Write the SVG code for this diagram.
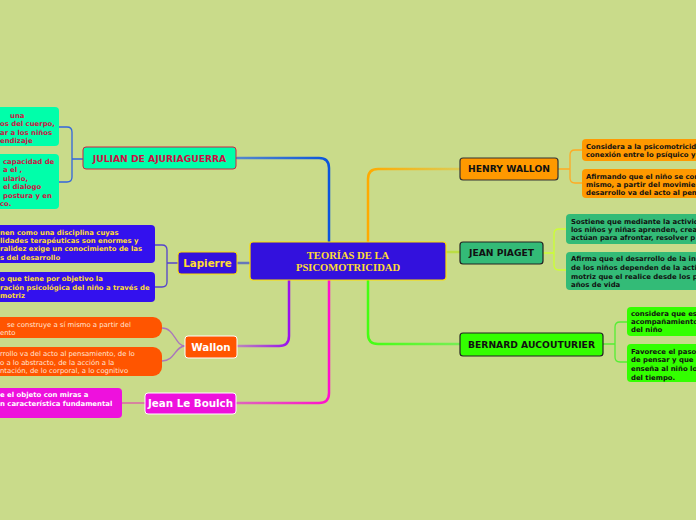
<svg xmlns="http://www.w3.org/2000/svg" width="696" height="520" viewBox="0 0 696 520">
<style>
.n{font-family:"DejaVu Sans",Verdana,sans-serif;font-weight:bold;font-size:6.9px}
.r{font-family:"DejaVu Sans",Verdana,sans-serif;font-weight:normal;font-size:6.9px}
.t{font-family:"DejaVu Sans",Verdana,sans-serif;font-weight:bold;font-size:9.2px;text-anchor:middle}
.s{font-family:"DejaVu Sans",Verdana,sans-serif;font-weight:bold;font-size:10.3px;text-anchor:middle}
.c{fill:none;stroke-width:2.5;stroke-linecap:round}
.b{fill:none;stroke-width:1.3}
</style>
<defs>
<linearGradient id="gJ" gradientUnits="userSpaceOnUse" x1="237" y1="0" x2="329" y2="0"><stop offset="0" stop-color="#5588cc"/><stop offset="1" stop-color="#0a55dd"/></linearGradient>
<linearGradient id="gW" gradientUnits="userSpaceOnUse" x1="237" y1="0" x2="289" y2="0"><stop offset="0" stop-color="#bb88bb"/><stop offset="1" stop-color="#9911ee"/></linearGradient>
<linearGradient id="gB" gradientUnits="userSpaceOnUse" x1="237" y1="0" x2="329" y2="0"><stop offset="0" stop-color="#dd66bb"/><stop offset="1" stop-color="#ff11cc"/></linearGradient>
<linearGradient id="gH" gradientUnits="userSpaceOnUse" x1="368" y1="0" x2="460" y2="0"><stop offset="0" stop-color="#ffaa00"/><stop offset="1" stop-color="#ddcc55"/></linearGradient>
<linearGradient id="gA" gradientUnits="userSpaceOnUse" x1="368" y1="0" x2="460" y2="0"><stop offset="0" stop-color="#44ff11"/><stop offset="1" stop-color="#77ee55"/></linearGradient>
</defs>
<rect width="696" height="520" fill="#c9db8a"/>
<g id="connectors">
<path class="c" stroke="url(#gJ)" d="M329 242V168Q329 158 319 158H237"/>
<path class="c" stroke="#6677bb" stroke-width="1.5" d="M250 263H237"/>
<path class="c" stroke="url(#gW)" d="M289 280V336Q289 346 279 346H237"/>
<path class="c" stroke="url(#gB)" d="M329 280V393Q329 403 319 403H237"/>
<path class="c" stroke="url(#gH)" d="M368 242V179Q368 169 378 169H460"/>
<path class="c" stroke="#bbdd44" stroke-width="1.5" d="M446 252H460"/>
<path class="c" stroke="url(#gA)" d="M368 280V334Q368 344 378 344H460"/>
<path class="b" stroke="#3366dd" d="M83 159H72M59 127H67Q72 127 72 132V177Q72 182 67 182H59"/>
<path class="b" stroke="#5544cc" d="M178 263H167M155 245H162Q167 245 167 250V282Q167 287 162 287H155"/>
<path class="b" stroke="#aa77bb" d="M185 346C175 346 175 328 162 328M185 346C175 346 175 361 162 361"/>
<path class="b" stroke="#dd55aa" d="M145 403H122"/>
<path class="b" stroke="#ffaa22" d="M558 169H570M582 150H575Q570 150 570 155V178Q570 183 575 183H582"/>
<path class="b" stroke="#ccff33" d="M543 253H554M566 229H559Q554 229 554 234V265Q554 270 559 270H566"/>
<path class="b" stroke="#55ee33" d="M603 344H615M627 322H620Q615 322 615 327V357Q615 362 620 362H627"/>
</g>
<g id="center">
<rect x="250" y="242" width="196" height="38" rx="3" fill="#3311dd" stroke="#ffdd00" stroke-width="1.2"/>
<text x="348" y="259" fill="#ffdd33" font-family="'Liberation Serif',serif" font-weight="bold" font-size="10.6" text-anchor="middle">TEORÍAS DE LA</text>
<text x="348" y="270.5" fill="#ffdd33" font-family="'Liberation Serif',serif" font-weight="bold" font-size="10.6" text-anchor="middle">PSICOMOTRICIDAD</text>
</g>
<g id="julian">
<rect x="83" y="147" width="153" height="22" rx="3" fill="#00ffaa" stroke="#cc2244" stroke-width="1"/>
<text class="t" x="159.5" y="161.5" fill="#cc1144">JULIAN DE AJURIAGUERRA</text>
</g>
<g id="julian-note1">
<rect x="-20" y="107" width="79" height="39" rx="4" fill="#00ffaa"/>
<text class="n" fill="#cc1144"><tspan x="10" y="118">una</tspan><tspan x="0" y="126">os del cuerpo,</tspan><tspan x="0" y="135">ar a los niños</tspan><tspan x="0" y="143">endizaje</tspan></text>
</g>
<g id="julian-note2">
<rect x="-20" y="154" width="79" height="55" rx="4" fill="#00ffaa"/>
<text class="n" fill="#cc1144"><tspan x="3" y="164">capacidad de</tspan><tspan x="3" y="172">a el ,</tspan><tspan x="3" y="181">ulario,</tspan><tspan x="3" y="189">el dialogo</tspan><tspan x="3" y="198">postura y en</tspan><tspan x="0" y="206">co.</tspan></text>
</g>
<g id="lapierre">
<rect x="178" y="252" width="59" height="22" rx="3" fill="#3311dd" stroke="#ffdd00" stroke-width="1"/>
<text class="s" x="207.5" y="266.8" fill="#ffdd33">Lapierre</text>
</g>
<g id="lapierre-note1">
<rect x="-20" y="225" width="175" height="38" rx="4" fill="#3311ee"/>
<text class="n" fill="#ffdd33"><tspan x="0" y="235">nen como una disciplina cuyas</tspan><tspan x="0" y="243">lidades terapéuticas son enormes y</tspan><tspan x="0" y="251">ralidez exige un conocimiento de las</tspan><tspan x="0" y="260">s del desarrollo</tspan></text>
</g>
<g id="lapierre-note2">
<rect x="-20" y="272" width="175" height="30" rx="4" fill="#3311ee"/>
<text class="n" fill="#ffdd33"><tspan x="0" y="281">o que tiene por objetivo la</tspan><tspan x="0" y="289.5">ración psicológica del niño a través de</tspan><tspan x="0" y="298">motriz</tspan></text>
</g>
<g id="wallon">
<rect x="185" y="336" width="52" height="22" rx="3" fill="#ff5500" stroke="#ffffff" stroke-width="1"/>
<text class="s" x="211" y="350.8" fill="#ffffff">Wallon</text>
</g>
<g id="wallon-note1">
<rect x="-20" y="317" width="182" height="21" rx="9" fill="#ff5500"/>
<text class="r" fill="#ffe6d6"><tspan x="7" y="327">se construye a sí mismo a partir del</tspan><tspan x="0" y="335">ento</tspan></text>
</g>
<g id="wallon-note2">
<rect x="-20" y="347" width="182" height="29" rx="9" fill="#ff5500"/>
<text class="r" fill="#ffe6d6"><tspan x="0" y="356">rrollo va del acto al pensamiento, de lo</tspan><tspan x="0" y="364.5">o a lo abstracto, de la acción a la</tspan><tspan x="0" y="373">ntación, de lo corporal, a lo cognitivo</tspan></text>
</g>
<g id="leboulch">
<rect x="145" y="393" width="91" height="21" rx="3" fill="#ee11dd" stroke="#ffffff" stroke-width="1"/>
<text class="s" x="190.5" y="407.3" fill="#ffffff">Jean Le Boulch</text>
</g>
<g id="leboulch-note">
<rect x="-20" y="388" width="142" height="30" rx="4" fill="#ee11dd"/>
<text class="n" fill="#ffffff"><tspan x="0" y="397">e el objeto con miras a</tspan><tspan x="0" y="406">n característica fundamental</tspan></text>
</g>
<g id="henry">
<rect x="460" y="158" width="98" height="22" rx="3" fill="#ff9900" stroke="#333333" stroke-width="1.2"/>
<text class="t" x="509" y="172.3" fill="#111111">HENRY WALLON</text>
</g>
<g id="henry-note1">
<rect x="582" y="139" width="140" height="22" rx="4" fill="#ff9900"/>
<text class="n" fill="#111111"><tspan x="586" y="149">Considera a la psicomotricidad</tspan><tspan x="586" y="157">conexión entre lo psíquico y</tspan></text>
</g>
<g id="henry-note2">
<rect x="582" y="169" width="140" height="29" rx="4" fill="#ff9900"/>
<text class="n" fill="#111111"><tspan x="586" y="179">Afirmando que el niño se construye</tspan><tspan x="586" y="187">mismo, a partir del movimiento</tspan><tspan x="586" y="195">desarrollo va del acto al pensamiento</tspan></text>
</g>
<g id="piaget">
<rect x="460" y="242" width="83" height="22" rx="3" fill="#33bb77" stroke="#222222" stroke-width="1.2"/>
<text class="t" x="501.5" y="256.3" fill="#111111">JEAN PIAGET</text>
</g>
<g id="piaget-note1">
<rect x="566" y="214" width="150" height="30" rx="4" fill="#33bb77"/>
<text class="n" fill="#111111"><tspan x="571" y="224">Sostiene que mediante la actividad</tspan><tspan x="571" y="232">los niños y niñas aprenden, crean</tspan><tspan x="571" y="240">actúan para afrontar, resolver p</tspan></text>
</g>
<g id="piaget-note2">
<rect x="566" y="252" width="150" height="38" rx="4" fill="#33bb77"/>
<text class="n" fill="#111111"><tspan x="571" y="261">Afirma que el desarrollo de la in</tspan><tspan x="571" y="270">de los niños dependen de la acti</tspan><tspan x="571" y="279">motriz que el realice desde los p</tspan><tspan x="571" y="287">años de vida</tspan></text>
</g>
<g id="bernard">
<rect x="460" y="333" width="143" height="23" rx="3" fill="#33ff00" stroke="#222222" stroke-width="1.2"/>
<text class="t" x="531.5" y="347.8" fill="#111111">BERNARD AUCOUTURIER</text>
</g>
<g id="bernard-note1">
<rect x="627" y="307" width="100" height="29" rx="4" fill="#33ff00"/>
<text class="n" fill="#111111"><tspan x="631" y="316">considera que es</tspan><tspan x="631" y="324">acompañamiento</tspan><tspan x="631" y="332">del niño</tspan></text>
</g>
<g id="bernard-note2">
<rect x="627" y="344" width="100" height="38" rx="4" fill="#33ff00"/>
<text class="n" fill="#111111"><tspan x="631" y="354">Favorece el paso</tspan><tspan x="631" y="362">de pensar y que</tspan><tspan x="631" y="371">enseña al niño lo</tspan><tspan x="631" y="380">del tiempo.</tspan></text>
</g>
</svg>
